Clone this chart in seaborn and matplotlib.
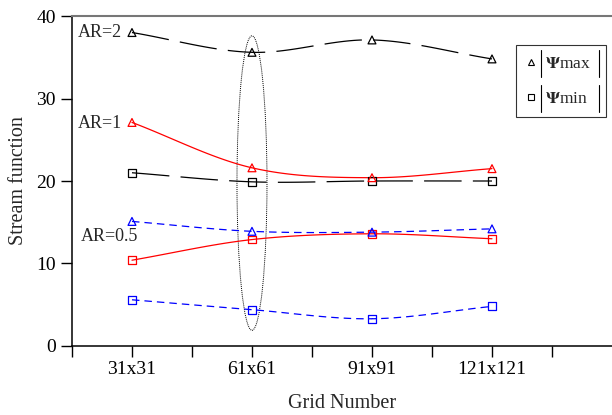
import numpy as np
import pandas as pd
import seaborn as sns
import matplotlib.pyplot as plt
from matplotlib.patches import Ellipse
from matplotlib.lines import Line2D

# grid sizes and stream function values
grids = ["31x31", "61x61", "91x91", "121x121"]
ar2_max = [38.0, 35.6, 37.1, 34.8]
ar2_min = [21.0, 19.9, 20.0, 20.0]
ar1_max = [27.1, 21.6, 20.4, 21.5]
ar1_min = [10.4, 12.9, 13.6, 13.0]
ar05_max = [15.1, 13.9, 13.8, 14.2]
ar05_min = [5.6, 4.4, 3.3, 4.8]


def smooth(x, y, n=40):
    # catmull-rom curve through the points (like a spreadsheet "smoothed line")
    x = np.asarray(x, float)
    y = np.asarray(y, float)
    px = np.concatenate([[2 * x[0] - x[1]], x, [2 * x[-1] - x[-2]]])
    py = np.concatenate([[2 * y[0] - y[1]], y, [2 * y[-1] - y[-2]]])
    xs, ys = [], []
    t = np.linspace(0, 1, n)
    for i in range(1, len(px) - 2):
        for p, out in ((px, xs), (py, ys)):
            p0, p1, p2, p3 = p[i - 1], p[i], p[i + 1], p[i + 2]
            out.append(0.5 * (2 * p1 + (-p0 + p2) * t
                              + (2 * p0 - 5 * p1 + 4 * p2 - p3) * t ** 2
                              + (-p0 + 3 * p1 - 3 * p2 + p3) * t ** 3))
    return np.concatenate(xs), np.concatenate(ys)


sns.set_style("ticks")
plt.rcParams["font.family"] = ["Liberation Serif", "DejaVu Serif"]
plt.rcParams["mathtext.fontset"] = "stix"

fig = plt.figure(figsize=(6.12, 4.15), dpi=100)
ax = fig.add_axes([0.1176, 0.1663, 0.8824, 0.7951])

xpos = np.arange(1, len(grids) + 1)
long_dash = (0, (30, 9))
short_dash = (0, (6, 4))
series = [
    (ar2_max, "^", "black", long_dash),
    (ar2_min, "s", "black", long_dash),
    (ar1_max, "^", "red", "-"),
    (ar1_min, "s", "red", "-"),
    (ar05_max, "^", "blue", short_dash),
    (ar05_min, "s", "blue", short_dash),
]

for vals, mk, col, ls in series:
    sx, sy = smooth(xpos, vals)
    sns.lineplot(x=sx, y=sy, sort=False, estimator=None, color=col,
                 linestyle=ls, linewidth=0.9, ax=ax)
    sns.scatterplot(x=xpos, y=vals, marker=mk, s=32, facecolor="none",
                    edgecolor=col, linewidth=0.9, ax=ax, zorder=5)

# ellipse around the 61x61 results
ax.add_patch(Ellipse((2, 19.75), 0.25, 35.7, fill=False, edgecolor="black",
                     linestyle=(0, (1, 1)), linewidth=0.7))

ax.text(0.55, 38.0, "AR=2", fontsize=13, va="center")
ax.text(0.55, 27.0, "AR=1", fontsize=13, va="center")
ax.text(0.57, 13.3, "AR=0.5", fontsize=13, va="center")

ax.set_xlim(0.5, 5.0)
ax.set_ylim(0, 40)
ax.set_xticks(xpos)
ax.set_xticklabels(grids)
ax.set_xticks(np.arange(0.5, 5.0, 1.0), minor=True)
ax.set_yticks([0, 10, 20, 30, 40])
ax.tick_params(axis="both", which="both", direction="out", length=8,
               width=1, labelsize=14, colors="black")
ax.tick_params(axis="x", pad=3)
ax.set_xlabel("Grid Number", fontsize=14.5, labelpad=11)
ax.set_ylabel("Stream function", fontsize=14.5, labelpad=6)

for s in ["left", "bottom"]:
    ax.spines[s].set_color("black")
    ax.spines[s].set_linewidth(1.1)
ax.spines["top"].set_color("#777777")
ax.spines["top"].set_linewidth(1.5)
ax.spines["right"].set_visible(False)

handles = [
    Line2D([], [], marker="^", linestyle="none", markerfacecolor="none",
           markeredgecolor="black", markersize=5, markeredgewidth=0.8),
    Line2D([], [], marker="s", linestyle="none", markerfacecolor="none",
           markeredgecolor="black", markersize=5, markeredgewidth=0.8),
]
labels = [r"$\mathbf{\Psi}$max  ", r"$\mathbf{\Psi}$min  "]
leg = ax.legend(handles, labels, loc="upper right", bbox_to_anchor=(0.989, 0.912),
                fontsize=12.5, frameon=True, fancybox=False, handlelength=0.6,
                handletextpad=0.5, borderpad=0.6, labelspacing=1.1,
                borderaxespad=0)
leg.get_frame().set_edgecolor("black")
leg.get_frame().set_linewidth(0.8)

# absolute-value bars around the legend labels
fig.canvas.draw()
inv = fig.transFigure.inverted()
for txt in leg.get_texts():
    bb = txt.get_window_extent().transformed(inv)
    cy = (bb.y0 + bb.y1) / 2
    h = 27 / 415
    for xb in (bb.x0 - 4 / 612, 599 / 612):
        fig.add_artist(Line2D([xb, xb], [cy - h / 2, cy + h / 2],
                              color="black", linewidth=0.8))

fig.savefig("out.png", dpi=100)
